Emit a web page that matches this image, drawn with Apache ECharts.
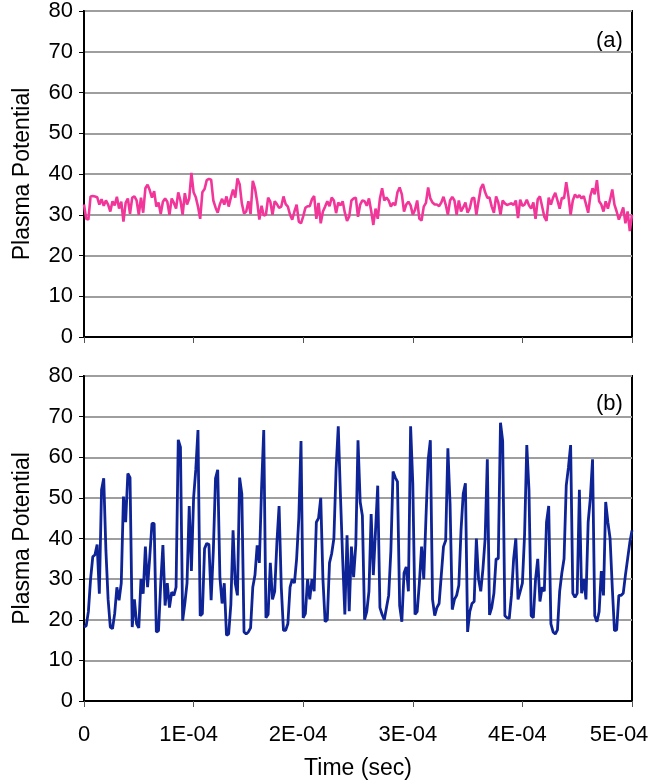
<!DOCTYPE html>
<html>
<head>
<meta charset="utf-8">
<script src="https://cdn.jsdelivr.net/npm/echarts@6/dist/echarts.min.js"></script>
<style>
  html, body { margin: 0; padding: 0; background: #fff; }
  #chart { width: 652px; height: 780px; }
</style>
</head>
<body>
<div id="chart"></div>
<script>
// Sampling interval of both probe records (seconds)
const SAMPLE_STEP = 2e-6;

// Panel (a): plasma potential record
const potentialA = [
  32.5, 29, 28.8, 34.5, 34.6, 34.5, 34.3, 32.5, 33.8, 32.2,
  33.5, 32.5, 30.8, 33.3, 32.3, 34.4, 31.5, 33.2, 28.3, 32.9,
  34, 30.2, 34.2, 34.5, 33.5, 30, 34.2, 30.5, 36.5, 37.4,
  36, 34.2, 35.8, 32, 33, 30.2, 33.2, 34, 33.2, 30,
  34, 32.9, 31.5, 35.5, 33.5, 30, 35.3, 32.5, 34, 40.3,
  35.5, 34.3, 32, 29, 35.5, 36.3, 38.5, 38.8, 38.6, 33.5,
  31.8, 30.5, 32.6, 33.9, 32.5, 34.5, 32, 34.2, 36.2, 34.2,
  38.9, 37.5, 32.8, 30.3, 30.8, 33.3, 30.2, 38.3, 36.5, 33.2,
  28.8, 32.2, 29.8, 30, 34.2, 33.2, 30, 33.3, 32.6, 31.7,
  32, 34.5, 32.6, 32, 30, 28.8, 30.8, 32.5, 28.3, 27.9,
  29.6, 31.7, 32.1, 32.1, 33.8, 34.6, 29, 32.9, 27.9, 30.8,
  32, 33.3, 32.1, 34.2, 33.5, 30.4, 33, 32.3, 33.3, 30.5,
  28.5, 29.6, 33.5, 34, 34.2, 29.5, 32.5, 33.5, 33.3, 32.2,
  34, 31, 27.5, 31.5, 29, 34, 36.5, 33.5, 34.2, 33.5,
  32, 32.9, 32.3, 35.5, 36.7, 35, 30.8, 32.5, 33.2, 32.3,
  30, 31.2, 33.5, 29, 28.6, 32, 32.9, 36.7, 34, 33,
  32.5, 32.5, 32.1, 33, 34.4, 32.5, 30, 33.5, 34.4, 33.5,
  30, 33.5, 30.8, 31.8, 33, 30.5, 31.6, 34, 34.2, 30,
  33.3, 36.5, 37.5, 35.5, 34.2, 34.2, 32, 30.5, 34.5, 33,
  30, 33.5, 32.8, 32.4, 32.6, 32.8, 32.4, 33.5, 29.2, 33.7,
  32.2, 32.5, 33.7, 32.3, 31.5, 33, 29, 33.8, 34.5, 32,
  29.5, 28.5, 34.2, 32.5, 34.2, 35.4, 33.5, 31.5, 34.2, 34,
  38, 34.5, 30, 33.5, 35, 34.2, 34.8, 34, 34.6, 32.6,
  30.5, 34.6, 36.5, 35, 38.5, 33.3, 32.5, 30.8, 33.3, 31.5,
  33.7, 36.2, 32.5, 30.8, 28.8, 30.2, 31.8, 27.9, 30.8, 26,
  30
];

// Panel (b): plasma potential record
const potentialB = [
  18.2, 18.5, 22, 30, 35.5, 36, 38.5, 26.4, 52, 54.8,
  37, 25, 18.2, 17.8, 21.5, 28, 24.8, 29, 50.3, 44,
  56, 55, 18.2, 25, 19, 18, 30, 26.4, 38, 28,
  35.5, 43.7, 43.7, 17, 17.3, 28.9, 38.4, 23.5, 29, 23,
  26.8, 26, 28, 64.3, 62.5, 19.8, 24, 29, 48, 32,
  50, 57, 66.7, 21, 21.5, 37.5, 38.8, 38.5, 24.8, 37,
  54.8, 56.9, 30.5, 24, 29, 16.2, 16.5, 23.8, 42, 29,
  26, 55, 51, 17, 16.5, 17, 18, 28, 31, 38.3,
  34, 52.3, 66.7, 20.5, 21.3, 34, 25, 27, 39, 48,
  28, 17.4, 17.4, 19, 28, 30, 29, 35, 45, 64,
  20.5, 21.5, 30, 25, 30, 27, 44, 45, 50, 30,
  19.5, 20, 34, 36.3, 40, 57, 67.6, 50.5, 35, 21.3,
  40.8, 22.1, 38, 30.5, 38.5, 64.2, 49, 45.6, 20, 22,
  27, 46, 31, 42, 53, 23, 21.3, 20, 23, 26,
  37, 56.5, 55, 54, 23.5, 19.5, 31.5, 33, 27, 67.6,
  53.6, 21.3, 22, 29, 38, 30, 45, 59.3, 64.2, 25,
  21, 23, 24, 31, 38, 39.5, 62.2, 48.5, 22.5, 25,
  26, 28.5, 42, 51, 53.6, 17, 22, 24, 24.5, 40,
  30, 27, 32.5, 40, 59.5, 21.2, 23, 26.5, 35, 35,
  68.5, 64, 21, 20.5, 20.3, 26, 35, 40, 25, 27,
  29, 41, 63, 52, 21, 20.5, 30, 35, 24.5, 28,
  27, 44, 48, 19, 17, 16.5, 17.5, 27, 31.5, 35,
  53, 57.5, 63, 26.5, 25.5, 26.5, 52, 26.5, 30, 25,
  44, 50, 59.5, 21, 19.5, 22, 32, 26, 49, 44,
  40, 28, 17.3, 17.5, 26, 26, 26.5, 31, 35, 39,
  42
];

// Tick labels along the time axis
const timeTickLabels = ['0', '1E-04', '2E-04', '3E-04', '4E-04', '5E-04'];

const pairs = (vals) => vals.map((v, i) => [i * SAMPLE_STEP, v]);

const FONT = '"Liberation Sans", Arial, Helvetica, sans-serif';

// Time labels sit a little left of their ticks; the last one is pulled
// further in so it stays inside the canvas.
function timeLabel(v) {
  const k = Math.round(v / 1e-4);
  const text = timeTickLabels[k];
  if (k === 0) return text;
  if (k === timeTickLabels.length - 1) return '{last|' + text + '}';
  return '{mid|' + text + '}';
}

function xAxisFor(gridIndex, withLabels) {
  return {
    type: 'value',
    gridIndex: gridIndex,
    min: 0,
    max: 5e-4,
    interval: 1e-4,
    axisLine: { show: true, onZero: false, lineStyle: { color: '#000', width: 2 } },
    axisTick: { show: true, length: 6, lineStyle: { color: '#555', width: 1 } },
    axisLabel: {
      show: withLabels,
      color: '#000',
      fontFamily: FONT,
      fontSize: 22,
      margin: 23,
      formatter: timeLabel,
      rich: {
        mid: { color: '#000', fontFamily: FONT, fontSize: 22, padding: [0, 10, 0, 0] },
        last: { color: '#000', fontFamily: FONT, fontSize: 22, padding: [0, 26, 0, 0] }
      }
    },
    splitLine: { show: false },
    name: withLabels ? 'Time (sec)' : '',
    nameLocation: 'middle',
    nameGap: 56,
    nameTextStyle: { color: '#000', fontFamily: FONT, fontSize: 23 }
  };
}

function yAxisFor(gridIndex) {
  return {
    type: 'value',
    gridIndex: gridIndex,
    min: 0,
    max: 80,
    interval: 10,
    axisLine: { show: true, lineStyle: { color: '#000', width: 2 } },
    axisTick: { show: true, length: 5, lineStyle: { color: '#000', width: 1 } },
    axisLabel: { color: '#000', fontFamily: FONT, fontSize: 22, margin: 11 },
    splitLine: { show: true, lineStyle: { color: '#9e9e9e', width: 2 } },
    name: 'Plasma Potential',
    nameLocation: 'middle',
    nameGap: 50,
    nameTextStyle: { color: '#000', fontFamily: FONT, fontSize: 23 }
  };
}

const chart = echarts.init(document.getElementById('chart'), null, { renderer: 'canvas' });

chart.setOption({
  animation: false,
  backgroundColor: '#fff',
  grid: [
    { left: 84, top: 11, width: 548, height: 326, outerBoundsMode: 'none', containLabel: false, show: true, borderColor: '#000', borderWidth: 2, backgroundColor: 'transparent' },
    { left: 84, top: 376, width: 548, height: 325, outerBoundsMode: 'none', containLabel: false, show: true, borderColor: '#000', borderWidth: 2, backgroundColor: 'transparent' }
  ],
  xAxis: [xAxisFor(0, false), xAxisFor(1, true)],
  yAxis: [yAxisFor(0), yAxisFor(1)],
  graphic: [
    { type: 'text', left: 596, top: 30, style: { text: '(a)', fill: '#000', font: '22px ' + FONT } },
    { type: 'text', left: 596, top: 393, style: { text: '(b)', fill: '#000', font: '22px ' + FONT } }
  ],
  series: [
    {
      type: 'line',
      xAxisIndex: 0,
      yAxisIndex: 0,
      data: pairs(potentialA),
      showSymbol: false,
      lineStyle: { color: '#f23699', width: 2.6 },
      z: 3
    },
    {
      type: 'line',
      xAxisIndex: 1,
      yAxisIndex: 1,
      data: pairs(potentialB),
      showSymbol: false,
      lineStyle: { color: '#0e2396', width: 2.8 },
      z: 3
    }
  ]
});
</script>
</body>
</html>
